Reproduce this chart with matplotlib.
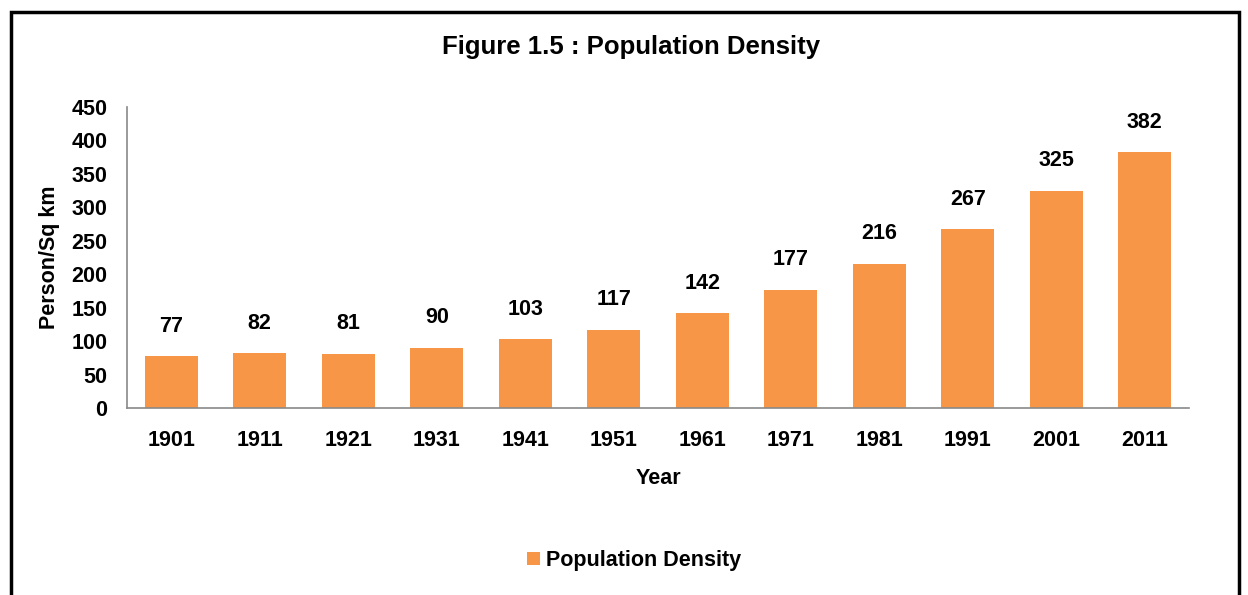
import matplotlib.pyplot as plt
from matplotlib.patches import Rectangle

# Dados
years = ["1901", "1911", "1921", "1931", "1941", "1951",
         "1961", "1971", "1981", "1991", "2001", "2011"]
density = [77, 82, 81, 90, 103, 117, 142, 177, 216, 267, 325, 382]

bar_color = "#F79646"

plt.rcParams["font.family"] = ["Liberation Sans Narrow", "Liberation Sans", "DejaVu Sans"]
plt.rcParams["font.weight"] = "bold"

fig = plt.figure(figsize=(12.48, 5.95), dpi=100)
ax = fig.add_axes([0.1018, 0.3143, 0.8509, 0.5059])

x = list(range(len(years)))
bars = ax.bar(x, density, width=0.6, color=bar_color, label="Population Density")

for xi, v in zip(x, density):
    ax.annotate(str(v), (xi, v), xytext=(0, 14), textcoords="offset points",
                ha="center", va="bottom", fontsize=15.5, fontweight="bold")

ax.set_xlim(-0.5, len(years) - 0.5)
ax.set_ylim(0, 450)
ax.set_yticks(range(0, 451, 50))
ax.set_xticks(x)
ax.set_xticklabels(years)
ax.tick_params(axis="both", length=0, labelsize=15.5)
ax.tick_params(axis="x", pad=16)
ax.tick_params(axis="y", pad=14)

for s in ["top", "right"]:
    ax.spines[s].set_visible(False)
for s in ["left", "bottom"]:
    ax.spines[s].set_color("#898989")
    ax.spines[s].set_linewidth(1.2)

ax.set_xlabel("Year", fontsize=15.5, fontweight="bold", labelpad=12)
ax.set_ylabel("Person/Sq km", fontsize=15.5, fontweight="bold", labelpad=8)

fig.suptitle("Figure 1.5 : Population Density", x=0.506, y=0.942,
             fontsize=18.5, fontweight="bold")

ax.legend(loc="center", bbox_to_anchor=(0.508, 0.058), bbox_transform=fig.transFigure,
          frameon=False, fontsize=15.5, handlelength=0.6, handleheight=0.6,
          handletextpad=0.3)

# Moldura da figura
fig.patches.append(Rectangle((0.009, -0.05), 0.984, 1.03, transform=fig.transFigure,
                             fill=False, edgecolor="black", linewidth=2.5))

fig.savefig("out.png", dpi=100)
